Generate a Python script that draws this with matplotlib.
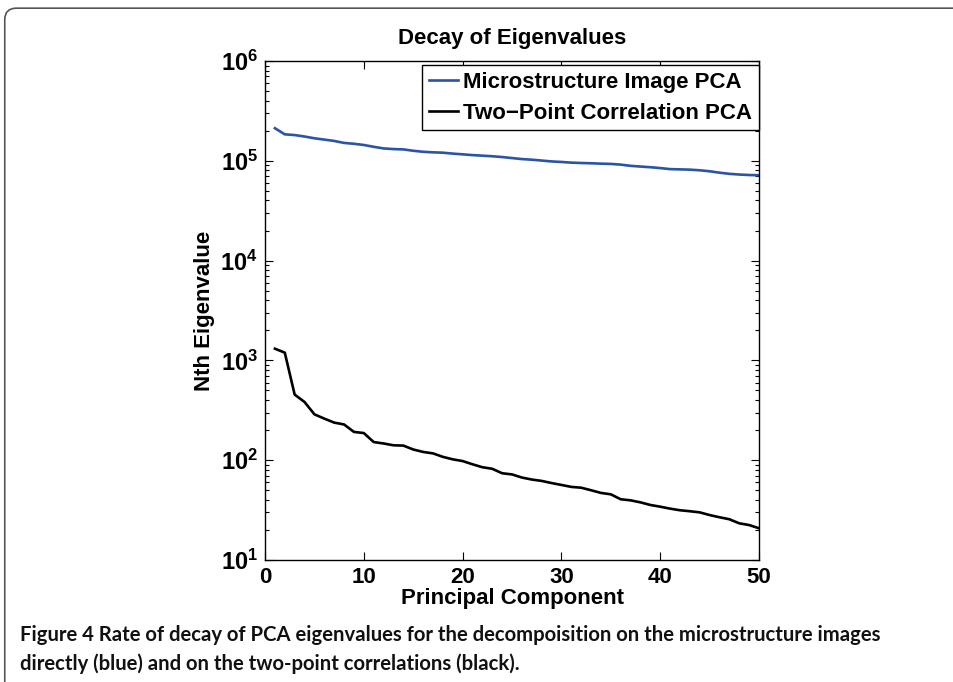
import matplotlib.pyplot as plt
from matplotlib.patches import FancyBboxPatch
from matplotlib.ticker import LogLocator, FixedLocator

plt.rcParams['font.family'] = ['Liberation Sans', 'DejaVu Sans']
plt.rcParams['mathtext.fontset'] = 'custom'
plt.rcParams['mathtext.rm'] = 'Liberation Sans'
plt.rcParams['mathtext.bf'] = 'Liberation Sans:bold'

# principal component index
components = list(range(1, 51))

# eigenvalues of the PCA on microstructure images (blue)
image_pca = [212000, 184000, 181000, 175000, 168000, 163000, 158000, 151000, 148000, 144000,
             138000, 133000, 131000, 130000, 126000, 123000, 121500, 120500, 118000, 116000,
             114000, 112500, 111000, 109000, 106500, 104000, 102500, 100500, 98500, 97300,
             95800, 95000, 94400, 93600, 93000, 91500, 89000, 87500, 86200, 84500,
             82500, 82000, 81500, 80300, 78500, 76000, 74000, 72800, 72000, 71600]

# eigenvalues of the PCA on two-point correlations (black)
corr_pca = [1310, 1195, 454, 383, 288, 261, 238, 228, 192, 187,
            152, 147, 141, 140, 128, 121, 117, 108, 102, 98,
            91, 85, 82, 74, 72, 67, 64, 62, 59, 56.5,
            54, 53, 50, 47, 45.5, 40.6, 39.6, 37.8, 35.6, 34.2,
            32.7, 31.5, 30.8, 30, 28.2, 26.8, 25.6, 23.3, 22.4, 20.8]

x_ticks = [0, 10, 20, 30, 40, 50]
y_exponents = [1, 2, 3, 4, 5, 6]
caption = ("Figure 4 Rate of decay of PCA eigenvalues for the decompoisition on the microstructure images\n"
           "directly (blue) and on the two-point correlations (black).")

fig = plt.figure(figsize=(9.54, 6.82), dpi=100)

# rounded frame around the figure panel (runs off right and bottom)
frame = FancyBboxPatch((0.005, -0.1), 1.2, 1.088, boxstyle='round,pad=0,rounding_size=0.012',
                       transform=fig.transFigure, facecolor='none', edgecolor='#555555',
                       linewidth=1.2, mutation_aspect=954 / 682)
fig.patches.append(frame)

ax = fig.add_axes([0.2778, 0.1789, 0.5178, 0.7317])
ax.plot(components, image_pca, color='#2b54a6', linewidth=1.9, label='Microstructure Image PCA')
ax.plot(components, corr_pca, color='black', linewidth=1.9, label='Two\u2212Point Correlation PCA')

ax.set_yscale('log')
ax.set_xlim(0, 50)
ax.set_ylim(10, 1e6)
ax.xaxis.set_major_locator(FixedLocator(x_ticks))
ax.set_xticklabels([str(t) for t in x_ticks], fontsize=16, fontweight='bold')
ax.yaxis.set_major_locator(FixedLocator([10.0 ** e for e in y_exponents]))
ax.set_yticklabels([r'$\mathbf{10^{%d}}$' % e for e in y_exponents], fontsize=17)
ax.yaxis.set_minor_locator(LogLocator(base=10, subs=range(2, 10)))

ax.tick_params(which='both', direction='in', top=True, right=True, width=0.8)
ax.tick_params(which='major', length=6)
ax.tick_params(axis='x', which='major', pad=5)
ax.tick_params(axis='y', which='major', pad=5)
ax.tick_params(which='minor', length=3)
for s in ax.spines.values():
    s.set_linewidth(1.0)

ax.set_title('Decay of Eigenvalues', fontsize=16, fontweight='bold', pad=12)
ax.set_xlabel('Principal Component', fontsize=16, fontweight='bold', labelpad=0)
ax.set_ylabel('Nth Eigenvalue', fontsize=16, fontweight='bold', labelpad=4)

leg = ax.legend(loc='upper right', bbox_to_anchor=(1.0, 0.992),
                prop={'weight': 'bold', 'size': 16}, fancybox=False, framealpha=1,
                edgecolor='black', handlelength=1.3, handletextpad=0.25, borderpad=0.3,
                labelspacing=0.45, borderaxespad=0)
leg.get_frame().set_linewidth(1.0)

fig.text(0.021, 0.048, caption, fontsize=14.6, fontweight='bold', family=['Lato', 'DejaVu Sans'],
         va='center', ha='left', linespacing=1.5, color='#111111')

fig.savefig('out.png', dpi=100)
